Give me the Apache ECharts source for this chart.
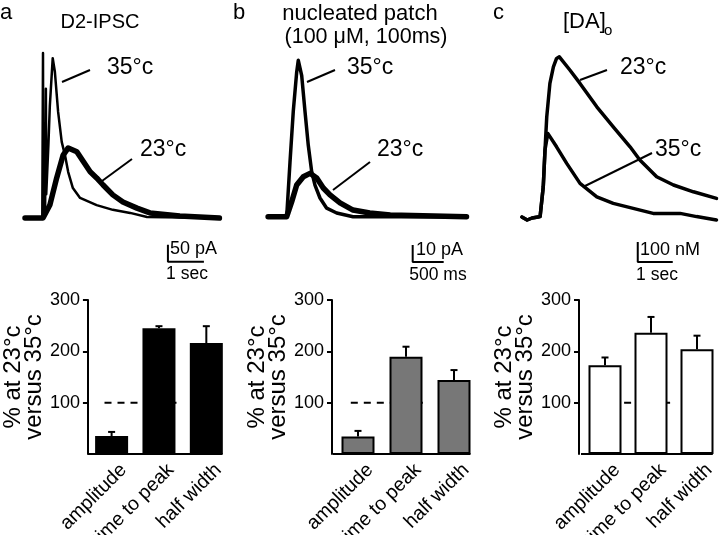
<!DOCTYPE html>
<html>
<head>
<meta charset="utf-8">
<script src="https://cdn.jsdelivr.net/npm/echarts@6/dist/echarts.min.js"></script>
<style>html,body{margin:0;padding:0;background:#fff}#c{width:720px;height:535px}</style>
</head>
<body>
<div id="c"></div>
<script>
// ---------- data ----------
const categories = ['amplitude', 'time to peak', 'half width'];
const yTicks = [100, 200, 300];

// bar panels: % at 23°c versus 35°c (mean, error)
const barsA = [35, 245, 216];
const errA  = [8, 4, 33];
const barsB = [34, 189.5, 144];
const errB  = [11, 19.5, 19.5];
const barsC = [173, 236, 204];
const errC  = [15, 31, 26.5];

// trace panel a: D2-IPSC (time s, current pA)
const a35_t = [-0.5, -0.02, 0, 0.01, 0.06, 0.08, 0.09, 0.15, 0.19, 0.27, 0.33, 0.42, 0.52, 0.61, 0.70, 0.83, 1.03, 1.49, 1.94, 2.42, 2.89, 4.9];
const a35_v = [0, 0, 485, 0, 38, 380, 70, 215, 330, 470, 430, 312, 224, 185, 135, 88, 59, 38, 24, 15, 3, 0];
const a23_t = [-0.5, 0, 0.19, 0.38, 0.56, 0.70, 0.75, 0.94, 1.12, 1.31, 1.49, 1.67, 1.94, 2.22, 2.61, 2.97, 3.8, 4.9];
const a23_v = [0, 0, 38, 118, 185, 206, 210, 195, 166, 136, 118, 97, 68, 47, 29, 15, 6, 0];

// trace panel b: nucleated patch (time ms, current pA)
const b35_t = [-300, 0, 53, 106, 161, 187, 242, 295, 348, 403, 456, 537, 645, 806, 1070, 2900];
const b35_v = [0, 0, 32, 62, 85, 92, 83, 62, 42, 26.5, 18.6, 11, 5, 2.2, 0, 0];
const b23_t = [-300, 0, 81, 161, 268, 376, 484, 590, 698, 860, 1070, 1340, 1670, 2900];
const b23_v = [0, 0, 8.8, 18.6, 23.5, 25.5, 22.8, 16.9, 12.8, 8.1, 3.9, 2.2, 1, 0];

// trace panel c: [DA]o (time s, concentration nM)
const c23_t = [-0.46, -0.31, -0.17, 0, 0.06, 0.15, 0.2, 0.25, 0.34, 0.44, 0.53, 0.61, 0.91, 1.2, 1.68, 2.15, 2.63, 2.91, 3.39, 3.87, 4.44, 5.1];
const c23_v = [0, -15, -5, 0, 2, 151, 335, 501, 668, 751, 793, 801, 735, 668, 551, 451, 351, 285, 201, 160, 126, 93];
const c35_t = [-0.46, -0.31, -0.17, 0, 0.06, 0.15, 0.2, 0.28, 0.53, 0.82, 1.2, 1.68, 2.15, 2.72, 3.29, 4.06, 4.53, 5.1];
const c35_v = [0, -15, -5, 0, 2, 151, 335, 418, 351, 268, 168, 101, 68, 43, 18, 18, 2, -15];

// scale bars: sizes and their anchor corner in data units
const scaleA = {dx: 1, dy: 50, x: 3.47, y: -129};
const scaleB = {dx: 500, dy: 10, x: 2032, y: -26.6};
const scaleC = {dx: 1, dy: 100, x: 2.85, y: -225};

// ---------- chart ----------
const F = 'Liberation Sans, Arial, Helvetica, sans-serif';
const zip = (t, v) => t.map((x, i) => [x, v[i]]);

const traceGrids = [
  {left: 25, top: 48, width: 194.4, height: 221},
  {left: 268.1, top: 46.7, width: 198.4, height: 221},
  {left: 520.5, top: 47, width: 196, height: 220}
];
const barOffsets = [0, 2, 3];
const barLefts = [86, 334, 582];
const grids = traceGrids.concat(barLefts.map(l => ({left: l, top: 300, width: 144, height: 154})));

const xAxes = [
  {type: 'value', gridIndex: 0, min: -0.5, max: 4.9, show: false},
  {type: 'value', gridIndex: 1, min: -300, max: 2900, show: false},
  {type: 'value', gridIndex: 2, min: -0.5, max: 5.1, show: false}
];
[3, 4, 5].forEach(g => xAxes.push({type: 'category', gridIndex: g, data: categories, boundaryGap: true, show: false}));
[3, 4, 5].forEach(g => xAxes.push({type: 'value', gridIndex: g, min: -0.5, max: 2.5, show: false}));

const yAxes = [
  {type: 'value', gridIndex: 0, min: -150, max: 500, show: false},
  {type: 'value', gridIndex: 1, min: -30, max: 100, show: false},
  {type: 'value', gridIndex: 2, min: -250, max: 850, show: false}
];
[3, 4, 5].forEach((g, k) => yAxes.push({
  type: 'value', gridIndex: g, min: 0, max: 300, interval: 100, offset: barOffsets[k], position: 'left',
  axisLine: {show: true, onZero: false, lineStyle: {color: '#000', width: 2}},
  axisTick: {show: true, length: 5, lineStyle: {color: '#000', width: 2}, customValues: yTicks},
  axisLabel: {fontSize: 18, fontFamily: F, color: '#000', margin: 8, customValues: yTicks,
              formatter: v => (v === 0 ? '' : String(v))},
  splitLine: {show: false},
  name: '% at 23°c\nversus 35°c', nameLocation: 'middle', nameRotate: 90, nameGap: 43,
  nameTextStyle: {fontSize: 24, fontFamily: F, color: '#000', lineHeight: 21}
}));

const series = [];
function trace(xi, t, v, w) {
  series.push({type: 'line', xAxisIndex: xi, yAxisIndex: xi, data: zip(t, v), symbol: 'none',
    lineStyle: {color: '#000', width: w, join: 'round', cap: 'round'}, animation: false, clip: false});
}
trace(0, a35_t, a35_v, 2.5);
trace(0, a23_t, a23_v, 5.5);
trace(1, b35_t, b35_v, 3.5);
trace(1, b23_t, b23_v, 5.5);
trace(2, c23_t, c23_v, 3.5);
trace(2, c35_t, c35_v, 3.5);

[scaleA, scaleB, scaleC].forEach((s, i) => {
  series.push({type: 'line', xAxisIndex: i, yAxisIndex: i, symbol: 'none', animation: false, clip: false,
    lineStyle: {color: '#000', width: 2},
    data: [[s.x, s.y + s.dy], [s.x, s.y], [s.x + s.dx, s.y]]});
});

const barSets = [[barsA, errA], [barsB, errB], [barsC, errC]];
const barStyles = [
  {color: '#000', borderColor: '#000', borderWidth: 0},
  {color: '#777', borderColor: '#000', borderWidth: 2},
  {color: '#fff', borderColor: '#000', borderWidth: 2}
];
barSets.forEach(([vals, errs], k) => {
  const cx = 3 + k, vx = 6 + k, y = 3 + k;
  // reference line at 100
  series.push({type: 'line', xAxisIndex: vx, yAxisIndex: y, symbol: 'none', animation: false, z: 1,
    data: [[-0.15, 100], [1.47, 100]], lineStyle: {color: '#000', width: 2, type: [7, 6]}});
  // x axis baseline
  series.push({type: 'line', xAxisIndex: vx, yAxisIndex: y, symbol: 'none', animation: false, clip: false, z: 6,
    data: [[-0.5 - barOffsets[k] / 48, 0], [2 + 16.5 / 48, 0]], lineStyle: {color: '#000', width: 2}});
  series.push({type: 'bar', xAxisIndex: cx, yAxisIndex: y, data: vals, barWidth: 33, z: 3, animation: false,
    itemStyle: barStyles[k]});
  series.push({type: 'custom', xAxisIndex: cx, yAxisIndex: y, z: 5, animation: false,
    data: vals.map((v, i) => [i, v, errs[i]]), encode: {x: 0, y: 1},
    renderItem: (params, api) => {
      const i = api.value(0), v = api.value(1), e = api.value(2);
      const p0 = api.coord([i, v]), p1 = api.coord([i, v + e]);
      return {type: 'group', children: [
        {type: 'line', shape: {x1: p0[0], y1: p0[1], x2: p1[0], y2: p1[1]}, style: {stroke: '#000', lineWidth: 2}},
        {type: 'line', shape: {x1: p1[0] - 3.5, y1: p1[1], x2: p1[0] + 3.5, y2: p1[1]}, style: {stroke: '#000', lineWidth: 2}}
      ]};
    }});
  // rotated category labels
  series.push({type: 'custom', xAxisIndex: cx, yAxisIndex: y, z: 5, animation: false, clip: false,
    data: categories.map((c, i) => [i, 0]), encode: {x: 0, y: 1},
    renderItem: (params, api) => {
      const i = api.value(0);
      const p = api.coord([i, 0]);
      return {type: 'text', x: p[0] + 12, y: p[1] + 13, rotation: Math.PI / 4,
        style: {text: categories[i], align: 'right', verticalAlign: 'middle', fontSize: 19.5, fontFamily: F, fill: '#000'}};
    }});
});

function txt(text, x, y, size, align) {
  return {type: 'text', x: x, y: y, z: 10,
    style: {text: text, fontSize: size, fontFamily: F, fill: '#000', align: align || 'left', verticalAlign: 'middle'}};
}
function seg(x1, y1, x2, y2) {
  return {type: 'line', z: 10, shape: {x1, y1, x2, y2}, style: {stroke: '#000', lineWidth: 2}};
}
const graphic = [
  txt('a', 0, 13, 22), txt('b', 233, 13, 22), txt('c', 493, 13, 22),
  txt('D2-IPSC', 100, 22, 20, 'center'),
  txt('nucleated patch', 360, 14, 22, 'center'),
  txt('(100 \u03bcM, 100ms)', 366, 37, 21.5, 'center'),
  txt('[DA]', 563, 22, 22), txt('o', 604, 31, 15),
  txt('35°c', 107, 68, 23), txt('23°c', 140, 150, 23),
  txt('35°c', 347, 68, 23), txt('23°c', 377, 150, 23),
  txt('23°c', 620, 68, 23), txt('35°c', 655, 150, 23),
  seg(62, 82, 90, 70), seg(102, 181, 132, 159),
  seg(307, 82, 335, 70), seg(333, 190, 370, 162),
  seg(580, 80, 607, 70), seg(583, 187, 652, 153),
  txt('50 pA', 170, 249, 18), txt('1 sec', 187, 274, 17.5, 'center'),
  txt('10 pA', 416, 250, 18), txt('500 ms', 438, 275, 17.5, 'center'),
  txt('100 nM', 640, 250, 18), txt('1 sec', 657, 275, 17.5, 'center')
];

const chart = echarts.init(document.getElementById('c'), null, {renderer: 'canvas'});
chart.setOption({
  animation: false,
  backgroundColor: '#fff',
  textStyle: {fontFamily: F},
  grid: grids,
  xAxis: xAxes,
  yAxis: yAxes,
  series: series,
  graphic: graphic
});
</script>
</body>
</html>
